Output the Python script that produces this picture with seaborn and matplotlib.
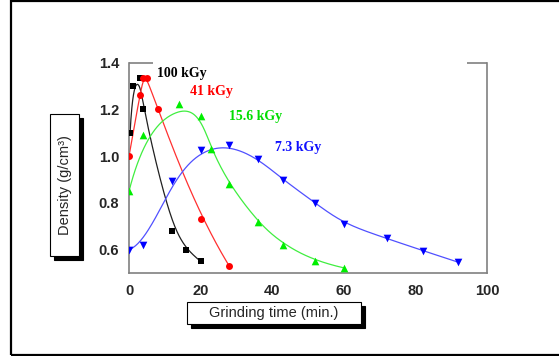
import numpy as np
import pandas as pd
import matplotlib
matplotlib.use("Agg")
import matplotlib.pyplot as plt
from matplotlib.patches import Rectangle
import seaborn as sns

# ---- data ----
x_100 = [0.3, 1, 3, 4, 12, 16, 20]
y_100 = [1.10, 1.30, 1.335, 1.20, 0.68, 0.60, 0.55]

x_41 = [0, 3, 4, 5, 8, 20, 28]
y_41 = [1.00, 1.26, 1.335, 1.335, 1.20, 0.73, 0.53]

x_156 = [0, 4, 14, 20, 23, 28, 36, 43, 52, 60]
y_156 = [0.85, 1.09, 1.224, 1.17, 1.03, 0.88, 0.718, 0.621, 0.55, 0.522]

x_73 = [0, 4, 12, 20, 28, 36, 43, 52, 60, 72, 82, 92]
y_73 = [0.60, 0.62, 0.895, 1.025, 1.047, 0.99, 0.90, 0.80, 0.71, 0.648, 0.596, 0.546]

series_labels = ["100 kGy", "41 kGy", "15.6 kGy", "7.3 kGy"]
x_ticks = [0, 20, 40, 60, 80, 100]
y_ticks = [0.6, 0.8, 1.0, 1.2, 1.4]
x_label = "Grinding time (min.)"
y_label = "Density (g/cm\u00b3)"


def bspline(xs, ys, n=300, k=3):
    """Clamped cubic B-spline using the data points as control points."""
    P = np.column_stack([xs, ys]).astype(float)
    m = len(P)
    knots = np.concatenate([[0.0] * k, np.linspace(0, 1, m - k + 1), [1.0] * k])
    t = np.linspace(0, 1, n)
    t[-1] -= 1e-9

    def N(i, p, tt):
        if p == 0:
            return ((knots[i] <= tt) & (tt < knots[i + 1])).astype(float)
        a = knots[i + p] - knots[i]
        b = knots[i + p + 1] - knots[i + 1]
        left = (tt - knots[i]) / a * N(i, p - 1, tt) if a > 0 else 0.0
        right = (knots[i + p + 1] - tt) / b * N(i + 1, p - 1, tt) if b > 0 else 0.0
        return left + right

    B = np.array([N(i, k, t) for i in range(m)])
    C = B.T @ P
    return C[:, 0], C[:, 1]


W, H = 559, 356
fig = plt.figure(figsize=(W / 100, H / 100), dpi=100)
sns.set_style("white")
ax = fig.add_axes([129 / W, (H - 273) / H, (487 - 129) / W, (273 - 62.7) / H])

spec = [
    (x_100, y_100, "black", "#202020", "s", 4.2),
    (x_41, y_41, "#ff0000", "#ff3030", "o", 5.0),
    (x_156, y_156, "#00ee00", "#40ee40", "^", 5.5),
    (x_73, y_73, "#0000ff", "#5050ff", "v", 5.5),
]
for xs, ys, mc, lc, mk, ms in spec:
    cx, cy = bspline(xs, ys)
    sns.lineplot(x=cx, y=cy, sort=False, estimator=None, color=lc, lw=0.9, ax=ax)
    sns.scatterplot(x=xs, y=ys, marker=mk, color=mc, s=ms ** 2, edgecolor=mc,
                    linewidth=0, ax=ax, zorder=3)

# series labels
lab_pos = [(7.8, 1.353), (17.0, 1.277), (27.9, 1.168), (40.8, 1.038)]
lab_col = ["black", "#ff0000", "#00dd00", "#1010ff"]
for t, (lx, ly), c in zip(series_labels, lab_pos, lab_col):
    ax.text(lx, ly, t, color=c, fontsize=10, fontweight="bold",
            family="Liberation Serif", ha="left", va="center")

ax.set_xlim(0, 100)
ax.set_ylim(0.5, 1.4)
ax.set_xticks(x_ticks)
ax.set_xticks([10, 30, 50, 70, 90], minor=True)
ax.set_yticks(y_ticks)
ax.set_yticklabels([f"{v:.1f}" for v in y_ticks])
ax.set_xticklabels([str(v) for v in x_ticks])
for lab in ax.get_xticklabels() + ax.get_yticklabels():
    lab.set_fontfamily("Liberation Sans")
    lab.set_fontweight("bold")
    lab.set_fontsize(10.5)
ax.tick_params(axis="both", which="both", direction="out", length=4, width=1,
               color="#808080", pad=3)
ax.tick_params(axis="x", which="major", pad=4)

spine_c = "#808080"
for s in ["left", "bottom", "right"]:
    ax.spines[s].set_visible(True)
    ax.spines[s].set_color(spine_c)
    ax.spines[s].set_linewidth(1.2)
ax.spines["top"].set_visible(False)
ax.tick_params(right=False, top=False)
# partial top frame
ax.plot([0, (153 - 129) / 358], [1, 1], transform=ax.transAxes, color=spine_c,
        lw=1.2, clip_on=False, solid_capstyle="butt")
ax.plot([(467 - 129) / 358, 1], [1, 1], transform=ax.transAxes, color=spine_c,
        lw=1.2, clip_on=False, solid_capstyle="butt")
ax.set_xlabel("")
ax.set_ylabel("")


def boxed(x0, y0, x1, y1, text, rot):
    # shadow
    fig.patches.append(Rectangle((x0 / W + 3.5 / W, 1 - y1 / H - 3.5 / H),
                                 (x1 - x0) / W, (y1 - y0) / H,
                                 transform=fig.transFigure, fc="black", ec="black",
                                 lw=0.8, zorder=1))
    fig.patches.append(Rectangle((x0 / W, 1 - y1 / H), (x1 - x0) / W, (y1 - y0) / H,
                                 transform=fig.transFigure, fc="white", ec="black",
                                 lw=0.8, zorder=2))
    fig.text((x0 + x1) / 2 / W, 1 - (y0 + y1) / 2 / H, text, rotation=rot,
             ha="center", va="center", fontsize=10.5, family="Liberation Sans",
             zorder=3)


boxed(50, 114, 79, 256, y_label, 90)
boxed(187, 302, 361, 324, x_label, 0)

# outer frame
fig.patches.append(Rectangle((11 / W, 1 / H), 1.2, (H - 2) / H, transform=fig.transFigure,
                             fc="none", ec="black", lw=1.6, zorder=0))

fig.savefig("out.png", dpi=100)
